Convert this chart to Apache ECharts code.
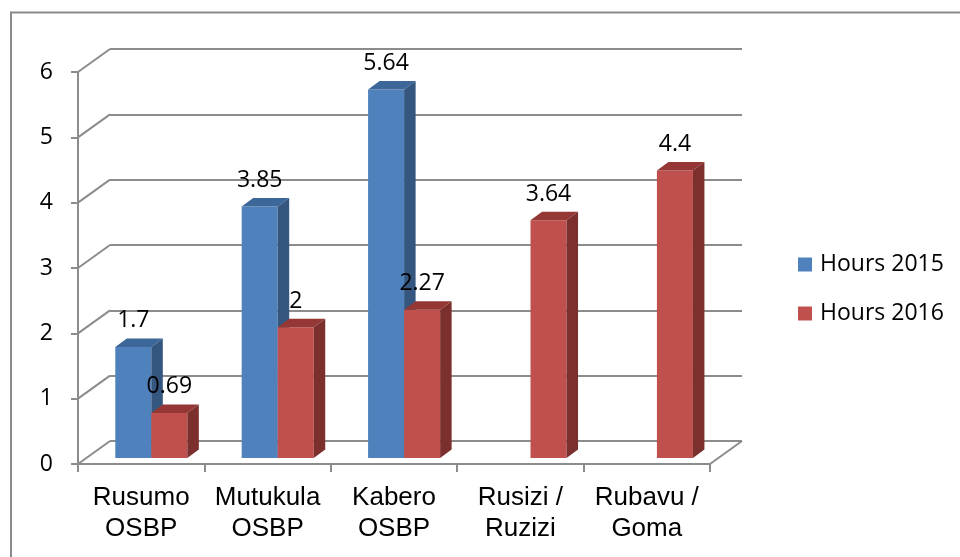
<!DOCTYPE html>
<html>
<head>
<meta charset="utf-8">
<title>Hours 2015 / 2016</title>
<script src="https://cdn.jsdelivr.net/npm/echarts@6/dist/echarts.min.js"></script>
<style>
  html, body { margin: 0; padding: 0; background: #fff; }
  #chart { width: 960px; height: 557px; }
</style>
</head>
<body>
<div id="chart"></div>
<script>
// Border posts and their clearance times
const categories = ['Rusumo\nOSBP', 'Mutukula\nOSBP', 'Kabero\nOSBP', 'Rusizi /\nRuzizi', 'Rubavu /\nGoma'];
const hours2015 = [1.7, 3.85, 5.64, null, null];
const hours2016 = [0.69, 2, 2.27, 3.64, 4.4];
const yTicks = [0, 1, 2, 3, 4, 5, 6];
const seriesNames = ['Hours 2015', 'Hours 2016'];

// Perspective: offset from the front plane to the back wall
const WALL = [32, -23];
const BAR_PLANE = [0, -6];      // bars stand slightly behind the front edge
const BAR_DEPTH = [11.5, -8.5]; // thickness of each bar
const BAR_FRAC = 0.285;         // bar width as a share of the category band
const GROUP_SHIFT = 0.08;       // sideways shift of the bar pair

const GRID_COLOR = '#8c8c8c';
const LABEL_FONT = 'Open Sans';
const LABEL_SIZE = 23;
const palette = [
  { front: '#4F81BD', top: '#3D6699', side: '#34567F' },
  { front: '#C0504D', top: '#953835', side: '#7C302E' }
];

function toPairs(arr) {
  return arr.map((v, i) => [i, v]).filter(p => p[1] !== null);
}

function barRenderer(slot) {
  const c = palette[slot];
  return function (params, api) {
    const v = api.value(1);
    if (v === null || isNaN(v)) return;
    const idx = api.value(0);
    const base = api.coord([idx, 0]);
    const top = api.coord([idx, v]);
    const band = api.size([1, 0])[0];
    const w = band * BAR_FRAC;
    const x0 = base[0] + band * GROUP_SHIFT + (slot === 0 ? -w : 0);
    const yb = base[1] + BAR_PLANE[1];
    const yt = top[1] + BAR_PLANE[1];
    const dx = BAR_DEPTH[0], dy = BAR_DEPTH[1];
    return {
      type: 'group',
      children: [
        { type: 'rect', shape: { x: x0, y: yt, width: w, height: yb - yt }, style: { fill: c.front } },
        { type: 'polygon', shape: { points: [[x0, yt], [x0 + w, yt], [x0 + w + dx, yt + dy], [x0 + dx, yt + dy]] }, style: { fill: c.top } },
        { type: 'polygon', shape: { points: [[x0 + w, yt], [x0 + w + dx, yt + dy], [x0 + w + dx, yb + dy], [x0 + w, yb]] }, style: { fill: c.side } },
        {
          type: 'text', z2: 50,
          x: x0 + w / 2, y: yt - 26,
          style: {
            text: String(v), fill: '#000',
            fontFamily: LABEL_FONT, fontSize: LABEL_SIZE,
            align: 'center', verticalAlign: 'middle',
            textAlign: 'center', textVerticalAlign: 'middle'
          }
        }
      ]
    };
  };
}

// Slanted lines joining the front axis to the back wall, plus the floor's right edge
function wallRenderer(params, api) {
  const cs = params.coordSys;
  const y = api.coord([0, api.value(1)])[1];
  const lineStyle = { stroke: GRID_COLOR, lineWidth: 2 };
  const children = [
    { type: 'line', shape: { x1: cs.x, y1: y, x2: cs.x + WALL[0], y2: y + WALL[1] }, style: lineStyle }
  ];
  if (api.value(1) === 0) {
    const xr = cs.x + cs.width;
    children.push({ type: 'line', shape: { x1: xr, y1: y, x2: xr + WALL[0], y2: y + WALL[1] }, style: lineStyle });
  }
  return { type: 'group', children };
}

const chart = echarts.init(document.getElementById('chart'), null, { renderer: 'canvas' });

chart.setOption({
  backgroundColor: '#fff',
  animation: false,
  graphic: [{
    type: 'rect', z: -10,
    shape: { x: 11, y: 12.5, width: 1000, height: 1000 },
    style: { fill: 'none', stroke: '#8a8a8a', lineWidth: 2 }
  }],
  legend: {
    data: seriesNames,
    orient: 'vertical',
    left: 798, top: 253, padding: 0,
    icon: 'rect', itemWidth: 14, itemHeight: 14, itemGap: 26,
    textStyle: { fontFamily: LABEL_FONT, fontSize: LABEL_SIZE, lineHeight: 23, color: '#000', padding: [0, 0, 0, 3] }
  },
  grid: [
    { left: 78, top: 72, width: 632, height: 392 },
    { left: 78 + WALL[0], top: 72 + WALL[1], width: 632, height: 392 }
  ],
  xAxis: [
    {
      gridIndex: 0, type: 'category', data: categories,
      axisLine: { show: true, lineStyle: { color: GRID_COLOR, width: 2 } },
      axisTick: { show: true, length: 8, lineStyle: { color: GRID_COLOR, width: 2 } },
      axisLabel: { color: '#000', fontFamily: 'Liberation Sans', fontSize: 26, lineHeight: 31, margin: 18, interval: 0 }
    },
    {
      gridIndex: 1, type: 'category', data: categories,
      axisLine: { show: false }, axisTick: { show: false }, axisLabel: { show: false }
    }
  ],
  yAxis: [
    {
      gridIndex: 0, type: 'value', min: 0, max: 6, interval: 1,
      axisLine: { show: true, lineStyle: { color: GRID_COLOR, width: 2 } },
      axisTick: { show: true, length: 7, lineStyle: { color: GRID_COLOR, width: 2 } },
      axisLabel: { color: '#000', fontFamily: LABEL_FONT, fontSize: LABEL_SIZE, margin: 25 },
      splitLine: { show: false }
    },
    {
      gridIndex: 1, type: 'value', min: 0, max: 6, interval: 1,
      axisLine: { show: false }, axisTick: { show: false }, axisLabel: { show: false },
      splitLine: { show: true, lineStyle: { color: GRID_COLOR, width: 2 } }
    }
  ],
  series: [
    {
      type: 'custom', name: 'walls', xAxisIndex: 0, yAxisIndex: 0, clip: false, silent: true, z: 1,
      renderItem: wallRenderer,
      data: yTicks.map(t => [0, t])
    },
    {
      type: 'custom', name: seriesNames[0], xAxisIndex: 0, yAxisIndex: 0, clip: false, z: 3,
      itemStyle: { color: palette[0].front },
      renderItem: barRenderer(0),
      data: toPairs(hours2015)
    },
    {
      type: 'custom', name: seriesNames[1], xAxisIndex: 0, yAxisIndex: 0, clip: false, z: 4,
      itemStyle: { color: palette[1].front },
      renderItem: barRenderer(1),
      data: toPairs(hours2016)
    }
  ]
});
</script>
</body>
</html>
